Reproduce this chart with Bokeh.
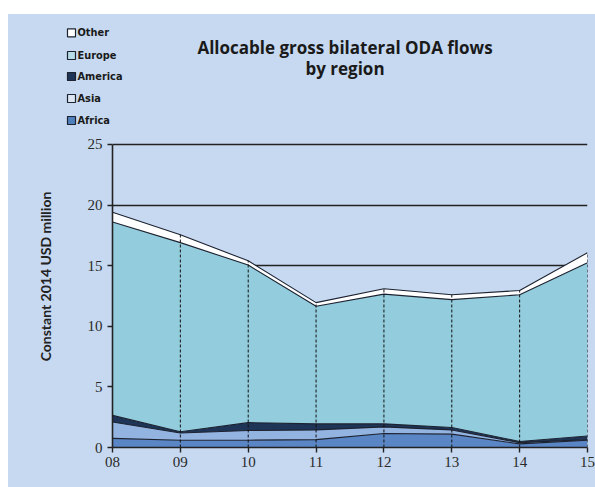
import numpy as np
from bokeh.plotting import figure
from bokeh.models import Range1d, FixedTicker, Spacer, ColumnDataSource
from bokeh.layouts import row, column
from bokeh.embed import file_html
from bokeh.resources import INLINE
from bokeh.core.properties import value

# ---- data ----
years = [8, 9, 10, 11, 12, 13, 14, 15]
year_labels = ["08", "09", "10", "11", "12", "13", "14", "15"]
regions = ["Africa", "Asia", "America", "Europe", "Other"]
africa = [0.75, 0.6, 0.6, 0.65, 1.15, 1.1, 0.3, 0.6]
asia = [1.35, 0.6, 0.8, 0.8, 0.55, 0.35, 0.1, 0.05]
america = [0.55, 0.1, 0.65, 0.5, 0.25, 0.2, 0.1, 0.3]
europe = [15.95, 15.6, 13.0, 9.7, 10.7, 10.55, 12.1, 14.3]
other = [0.8, 0.65, 0.35, 0.3, 0.45, 0.4, 0.35, 0.82]
y_ticks = [0, 5, 10, 15, 20, 25]
title_lines = ["Allocable gross bilateral ODA flows", "by region"]
y_label = "Constant 2014 USD million"

BG = "#C6D9F0"
fills = {"Africa": "#5A86C5", "Asia": "#93B3E0", "America": "#1E3557",
         "Europe": "#93CDDD", "Other": "#FFFFFF"}
legend_fills = {"Other": "#FFFFFF", "Europe": "#B6DDE8", "America": "#1E3557",
                "Asia": "#DCE6F2", "Africa": "#4F81BD"}
EDGE = "#1C2230"


def blank_fig(w, h, flip=False):
    f = figure(width=w, height=h, x_range=Range1d(0, w),
               y_range=Range1d(h, 0) if flip else Range1d(0, h),
               x_axis_type=None, y_axis_type=None, toolbar_location=None,
               output_backend="svg", min_border=0)
    f.background_fill_color = BG
    f.border_fill_color = BG
    f.outline_line_color = None
    f.grid.visible = False
    f.frame_align = False
    return f


# ---- header (title + legend) ----
hdr = blank_fig(587, 114, flip=True)
leg_order = ["Other", "Europe", "America", "Asia", "Africa"]
leg_y = [18.3, 41, 62, 84, 106]
hdr.rect(x=[63] * 5, y=leg_y, width=8, height=8,
         fill_color=[legend_fills[r] for r in leg_order],
         line_color=EDGE, line_width=1.2)
hdr.text(x=[69] * 5, y=leg_y, text=leg_order, text_font=value("DejaVu Sans"),
         text_font_style="bold", text_font_size="9.8px", text_color="#1a1a1a",
         text_baseline="middle", text_align="left")
hdr.text(x=[336.5, 336.5], y=[32.5, 53.5], text=title_lines, text_font=value("Open Sans"),
         text_font_style="bold", text_font_size="17px", text_color="#1a1a1a",
         text_baseline="middle", text_align="center")

# ---- y-axis title strip ----
ylab = blank_fig(60, 359)
ylab.text(x=[37], y=[359 - 148], text=[y_label], angle=np.pi / 2,
          text_font=value("Lato"), text_font_style="bold", text_font_size="14px",
          text_color="#222222", text_align="center", text_baseline="middle")

# ---- main chart ----
src = ColumnDataSource(dict(x=years, Africa=africa, Asia=asia, America=america,
                            Europe=europe, Other=other))
p = figure(width=527, height=359, x_range=Range1d(8, 15), y_range=Range1d(0, 25.16),
           toolbar_location=None, output_backend="svg",
           min_border_left=44, min_border_right=8, min_border_top=14,
           min_border_bottom=40)
p.frame_align = False
p.background_fill_color = BG
p.border_fill_color = BG
p.outline_line_color = None

p.varea_stack(regions, x="x", color=[fills[r] for r in regions], source=src)

cum = np.cumsum(np.array([africa, asia, america, europe, other]), axis=0)
for i in range(cum.shape[0]):
    p.line(years, cum[i], line_color=EDGE, line_width=1.1)
p.segment(x0=years, y0=[0] * len(years), x1=years, y1=cum[-1],
          line_color="#111111", line_width=1, line_dash="3 2")

p.xgrid.visible = False
p.ygrid.ticker = FixedTicker(ticks=y_ticks)
p.ygrid.grid_line_color = "#222222"
p.ygrid.grid_line_width = 1.6

p.xaxis.ticker = FixedTicker(ticks=years)
p.xaxis.major_label_overrides = {y: l for y, l in zip(years, year_labels)}
p.yaxis.ticker = FixedTicker(ticks=y_ticks)
p.yaxis.bounds = (0, 25)
for ax in (p.xaxis, p.yaxis):
    ax.axis_line_color = "#222222"
    ax.axis_line_width = 1.6
    ax.major_tick_line_color = "#222222"
    ax.major_tick_line_width = 1.4
    ax.major_tick_out = 5
    ax.major_tick_in = 0
    ax.minor_tick_line_color = None
    ax.major_label_text_font = "Liberation Serif"
    ax.major_label_text_font_size = "15px"
    ax.major_label_text_color = "#2a2a2a"
p.xaxis.major_label_standoff = 4
p.yaxis.major_label_standoff = 5

inner = column(hdr, row(ylab, p, styles={"background-color": BG}),
               styles={"background-color": BG})
layout = row(Spacer(width=8, height=487),
             column(Spacer(width=587, height=14), inner))

open("out.html", "w").write(file_html(layout, INLINE))
